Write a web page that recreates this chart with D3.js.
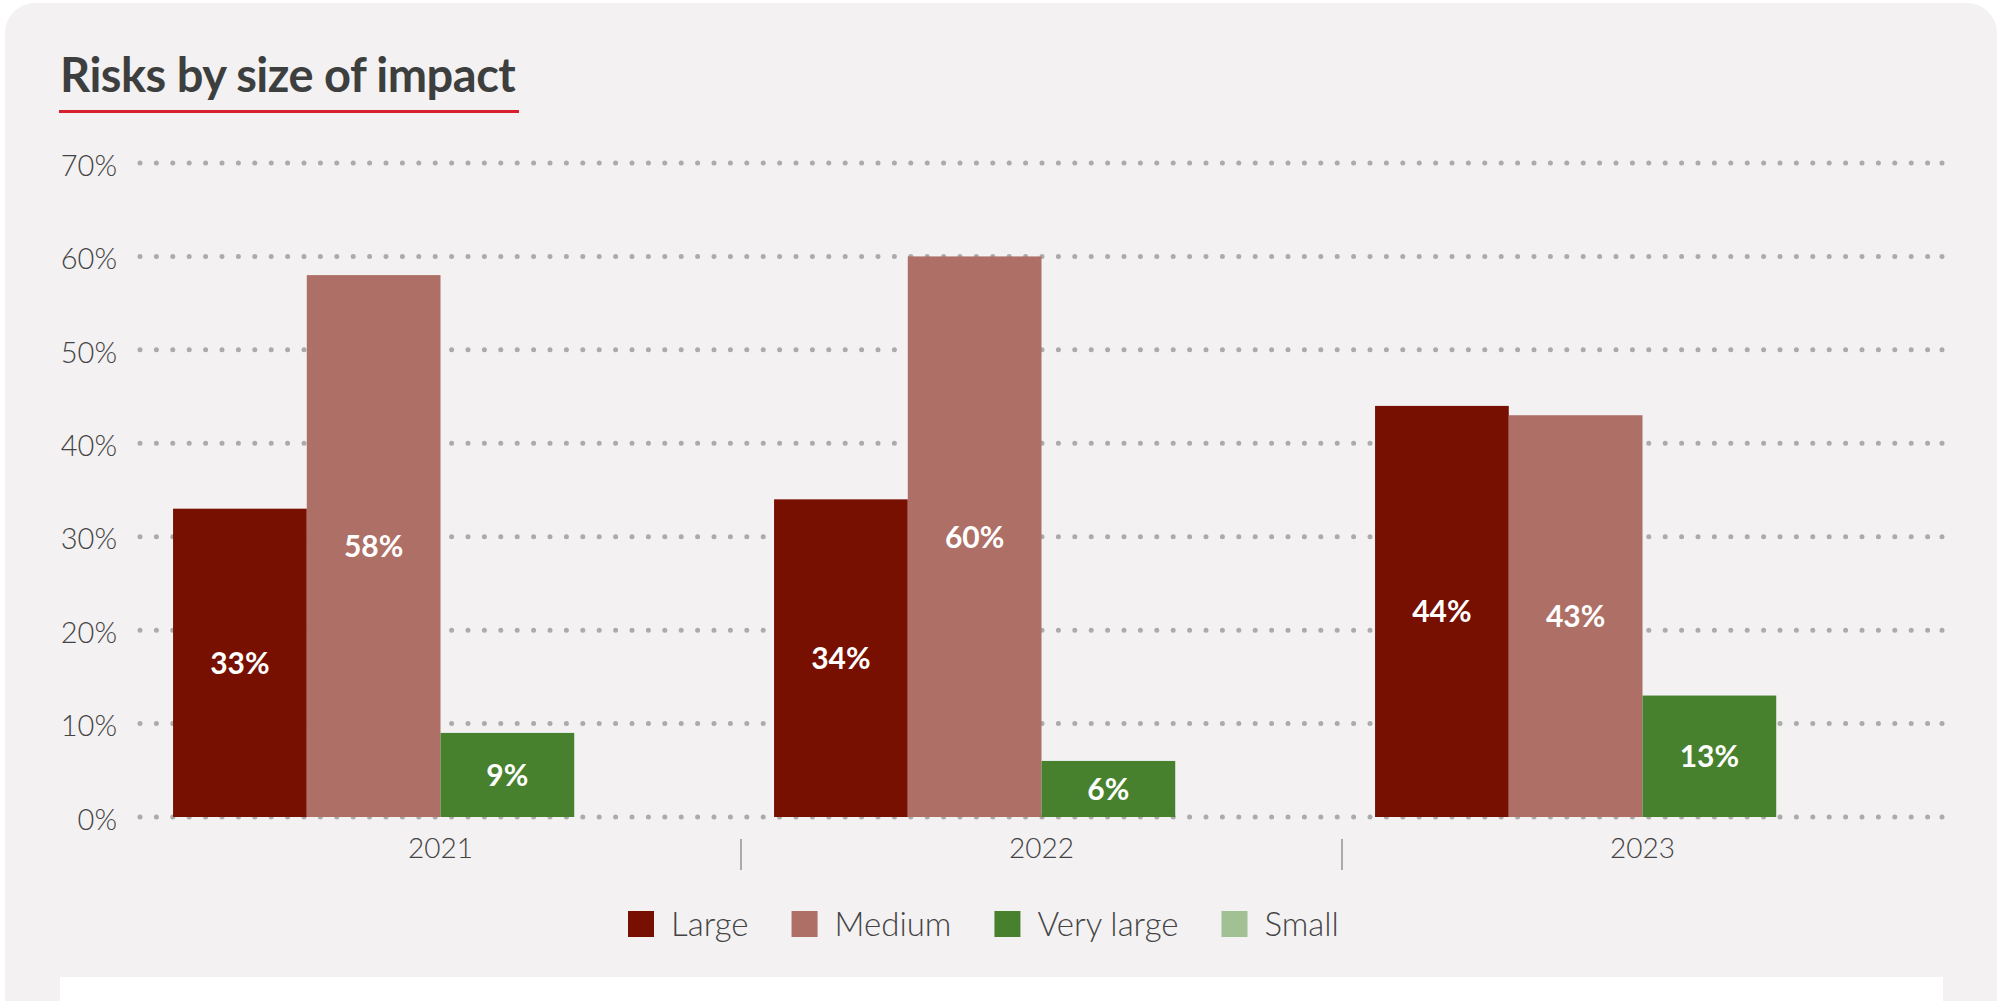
<!DOCTYPE html>
<html>
<head>
<meta charset="utf-8">
<script src="https://cdn.jsdelivr.net/npm/d3@7"></script>
<style>
  html, body { margin: 0; padding: 0; background: #ffffff; }
  svg { display: block; }
  text { font-family: Lato, "Open Sans", sans-serif; }
</style>
</head>
<body>
<svg id="chart" width="2003" height="1001"></svg>
<script>
// Share of risks by size of impact, per year
const years = ["2021", "2022", "2023"];
const seriesNames = ["Large", "Medium", "Very large", "Small"];
const large = [33, 34, 44];
const medium = [58, 60, 43];
const veryLarge = [9, 6, 13];
const small = [null, null, null];
const seriesColors = ["#771000", "#ae6f66", "#48812e", "#a1c195"];
const yTicks = [0, 10, 20, 30, 40, 50, 60, 70];

const seriesValues = [large, medium, veryLarge, small];
const rows = years.flatMap((yr, i) =>
  seriesNames.map((s, j) => ({ year: yr, series: s, value: seriesValues[j][i] }))
);

const svg = d3.select("#chart");
const plot = { left: 140, right: 1943, top: 163, bottom: 817 };

// card background
svg.append("rect")
  .attr("x", 5).attr("y", 3)
  .attr("width", 1992).attr("height", 1030)
  .attr("rx", 30).attr("ry", 30)
  .attr("fill", "#f3f1f2");

// white strip along the bottom of the card
svg.append("rect")
  .attr("x", 60).attr("y", 977)
  .attr("width", 1883).attr("height", 30)
  .attr("fill", "#ffffff");

// title with red underline
svg.append("text")
  .attr("x", 60).attr("y", 92)
  .attr("font-size", 47).attr("font-weight", 700)
  .attr("fill", "#3d3f3f")
  .attr("letter-spacing", -0.5)
  .text("Risks by size of impact");
svg.append("rect")
  .attr("x", 59).attr("y", 110)
  .attr("width", 460).attr("height", 3)
  .attr("fill", "#d6202b");

const x0 = d3.scaleBand().domain(years)
  .range([plot.left, plot.right])
  .paddingInner(0.11).paddingOuter(0.055);
const x1 = d3.scaleBand().domain(seriesNames)
  .range([0, x0.bandwidth()]);
const y = d3.scaleLinear().domain([0, 70]).range([plot.bottom, plot.top]);
const color = d3.scaleOrdinal().domain(seriesNames).range(seriesColors);

// dotted gridlines
const grid = svg.append("g");
grid.selectAll("line").data(yTicks).join("line")
  .attr("x1", plot.left).attr("x2", plot.right - 8)
  .attr("y1", d => y(d)).attr("y2", d => y(d))
  .attr("stroke", "#ababab")
  .attr("stroke-width", 5)
  .attr("stroke-linecap", "round")
  .attr("stroke-dasharray", "0 16.4");
grid.selectAll("circle").data(yTicks).join("circle")
  .attr("cx", plot.right - 1).attr("cy", d => y(d))
  .attr("r", 2.5).attr("fill", "#ababab");

// y axis labels
const yAxis = svg.append("g")
  .attr("transform", `translate(${plot.left - 23},0)`)
  .call(d3.axisLeft(y).tickValues(yTicks).tickSize(0).tickPadding(0)
    .tickFormat(d => d + "%"));
yAxis.select(".domain").remove();
yAxis.selectAll("text")
  .attr("font-family", "Lato, sans-serif")
  .attr("font-size", 29).attr("font-weight", 300)
  .attr("fill", "#444")
  .attr("dy", "0.42em");

// x axis labels and separators between years
const xAxis = svg.append("g")
  .attr("transform", `translate(0,${plot.bottom})`)
  .call(d3.axisBottom(x0).tickSize(0).tickPadding(0));
xAxis.select(".domain").remove();
xAxis.selectAll("text")
  .attr("font-family", "Lato, sans-serif")
  .attr("font-size", 28).attr("font-weight", 300)
  .attr("fill", "#444")
  .attr("y", 21).attr("dy", "0.71em");

const step = x0.step();
svg.append("g").selectAll("line").data(years.slice(1)).join("line")
  .attr("x1", d => x0(d) - (step - x0.bandwidth()) / 2)
  .attr("x2", d => x0(d) - (step - x0.bandwidth()) / 2)
  .attr("y1", plot.bottom + 22).attr("y2", plot.bottom + 53)
  .attr("stroke", "#aaaaaa").attr("stroke-width", 2);

// bars
const bars = rows.filter(d => d.value != null);
svg.append("g").selectAll("rect").data(bars).join("rect")
  .attr("x", d => x0(d.year) + x1(d.series))
  .attr("width", x1.bandwidth())
  .attr("y", d => y(d.value))
  .attr("height", d => y(0) - y(d.value))
  .attr("fill", d => color(d.series));

// value labels centred within each bar
svg.append("g").selectAll("text").data(bars).join("text")
  .attr("x", d => x0(d.year) + x1(d.series) + x1.bandwidth() / 2)
  .attr("y", d => (y(d.value) + y(0)) / 2)
  .attr("dy", "0.36em")
  .attr("text-anchor", "middle")
  .attr("font-size", 30).attr("font-weight", 700)
  .attr("fill", "#ffffff")
  .text(d => d.value + "%");

// legend
const legend = svg.append("g").attr("transform", "translate(628,911)");
let lx = 0;
seriesNames.forEach(name => {
  const item = legend.append("g").attr("transform", `translate(${lx},0)`);
  item.append("rect").attr("width", 26).attr("height", 26).attr("fill", color(name));
  const t = item.append("text")
    .attr("x", 43).attr("y", 13).attr("dy", "0.36em")
    .attr("font-size", 33).attr("font-weight", 300)
    .attr("fill", "#444")
    .text(name);
  lx += 43 + t.node().getComputedTextLength() + 43;
});
</script>
</body>
</html>
